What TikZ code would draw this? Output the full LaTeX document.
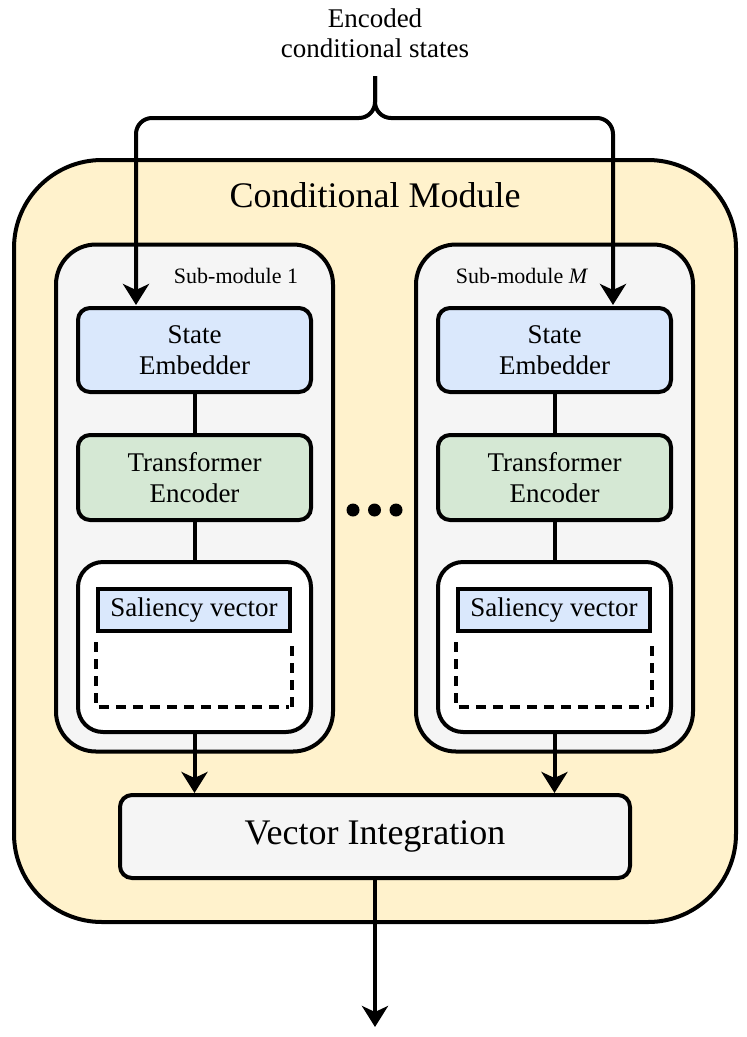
\documentclass[tikz,border=0pt]{standalone}
\usepackage{fontspec}
\setmainfont{Liberation Serif}
\usetikzlibrary{arrows.meta,calc}
\definecolor{cmfill}{HTML}{FFF2CC}
\definecolor{subfill}{HTML}{F5F5F5}
\definecolor{bluefill}{HTML}{DAE8FC}
\definecolor{greenfill}{HTML}{D5E8D4}
\begin{document}
\begin{tikzpicture}[x=1pt,y=-1pt,
  line width=4pt,
  >={Stealth[length=21pt,width=26pt,inset=6pt]},
  outerbox/.style={draw, fill=cmfill, rounded corners=88pt, minimum width=722pt, minimum height=762pt},
  subbox/.style={draw, fill=subfill, rounded corners=40pt, minimum width=277pt, minimum height=507pt},
  innerbox/.style={draw, rounded corners=12pt, minimum width=233pt, minimum height=84pt, align=center, font=\fontsize{27}{31}\selectfont},
  whitebox/.style={draw, fill=white, rounded corners=25pt, minimum width=233pt, minimum height=170pt},
  salbox/.style={draw, fill=bluefill, line width=4.5pt, minimum width=192pt, minimum height=42pt, inner sep=0pt, font=\fontsize{27}{31}\selectfont},
  sublabel/.style={font=\fontsize{22}{24}\selectfont},
  dot/.style={circle, fill=black, inner sep=0pt, minimum size=13pt},
  dashline/.style={dash pattern=on 10pt off 7pt},
]
\useasboundingbox (0,0) rectangle (747,1037);
% outer module
\node[outerbox] (cm) at (375,541) {};
\node[font=\fontsize{36}{40}\selectfont] (title) at (375,195) {Conditional Module};
% top label
\node[align=center, font=\fontsize{27}{30}\selectfont] (enc) at (375,33) {Encoded\\conditional states};
% sub-modules
\foreach \n/\cx/\ax/\lab/\lx in {1/194.5/136/{Sub-module 1}/236, M/554.5/613/{Sub-module \textit{M}}/522} {
  \node[subbox] (sub\n) at (\cx,498) {};
  \node[sublabel] (lab\n) at (\lx,276) {\lab};
  \node[innerbox, fill=bluefill] (se\n) at (\cx,350) {State\\Embedder};
  \node[innerbox, fill=greenfill, minimum height=85pt] (te\n) at (\cx,477.5) {Transformer\\Encoder};
  \node[whitebox] (wb\n) at (\cx,647) {};
  \node[salbox] (sv\n) at (\cx-0.5,610) {Saliency vector};
  \draw[dashline] ($(sv\n.south west)+(0,9)$) -- ($(sv\n.south west)+(0,74)$) -- ($(sv\n.south east)+(-3,74)$);
  \draw[dashline] ($(sv\n.south east)+(0,13)$) -- ($(sv\n.south east)+(0,76)$);
  \draw (se\n) -- (te\n);
  \draw (te\n) -- (wb\n);
  \coordinate (in\n) at (\ax,305);
}
% dots
\node[dot] (d1) at (353,510) {};
\node[dot] (d2) at (374.5,510) {};
\node[dot] (d3) at (396,510) {};
% vector integration
\node[draw, fill=subfill, rounded corners=12pt, minimum width=510pt, minimum height=83pt, font=\fontsize{36}{40}\selectfont] (vi) at (375,836.5) {Vector Integration};
\draw[->] (wb1.south) -- (wb1.south |- vi.north);
\draw[->] (wbM.south) -- (wbM.south |- vi.north);
\coordinate (out) at (375,1027);
\draw[->] (vi.south) -- (out);
% brace
\coordinate (stem) at (375,76);
\draw[->, rounded corners=16pt] (stem) -- (375,118) -- (136,118) -- (in1);
\draw[->, rounded corners=16pt] (stem) -- (375,118) -- (613,118) -- (inM);
\end{tikzpicture}
\end{document}
